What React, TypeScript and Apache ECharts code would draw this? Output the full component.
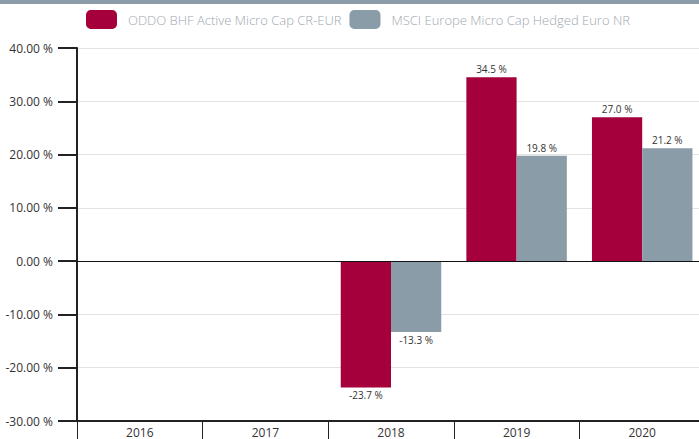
import React, { useEffect, useRef } from "react";
import * as echarts from "echarts";

const categories = ["2016", "2017", "2018", "2019", "2020"];
const seriesNames = ["ODDO BHF Active Micro Cap CR-EUR", "MSCI Europe Micro Cap Hedged Euro NR"];
const fundValues: (number | null)[] = [null, null, -23.7, 34.5, 27.0];
const indexValues: (number | null)[] = [null, null, -13.3, 19.8, 21.2];
const yTicks = { min: -30, max: 40, interval: 10 };

const RED = "#a6003c";
const GREY = "#8b9ca9";
const FONT = "'Open Sans', sans-serif";

function toData(vals: (number | null)[]) {
  return vals.map((v) =>
    v === null
      ? null
      : { value: v, label: { position: v < 0 ? "bottom" : "top" } }
  );
}

export default function App() {
  const ref = useRef<HTMLDivElement>(null);
  useEffect(() => {
    if (!ref.current) return;
    const chart = echarts.init(ref.current, null, { renderer: "svg" });
    const labelCfg = {
      show: true,
      fontFamily: FONT,
      fontSize: 10,
      color: "#333",
      distance: 3,
      formatter: (p: any) => p.value.toFixed(1) + " %",
    };
    chart.setOption({
      animation: false,
      textStyle: { fontFamily: FONT },
      graphic: [
        { type: "rect", left: 0, top: 0, shape: { width: 710, height: 4 }, style: { fill: "#8b9ba8" } },
      ],
      legend: {
        top: 10,
        left: 86,
        padding: 0,
        itemWidth: 31,
        itemHeight: 19,
        itemGap: 8,
        icon: "roundRect",
        textStyle: {
          fontFamily: FONT,
          fontSize: 13,
          color: "#a0a9b2",
          fontWeight: 300,
          padding: [0, 0, 0, 6],
        },
        data: seriesNames,
      },
      grid: { left: 77, right: -1, top: 48, bottom: 18 },
      xAxis: {
        type: "category",
        data: categories,
        axisLine: { onZero: false, lineStyle: { color: "#222", width: 2 } },
        axisTick: { show: true, length: 20, lineStyle: { color: "#222", width: 1 } },
        axisLabel: { fontFamily: FONT, fontSize: 12, color: "#333", margin: 5 },
      },
      yAxis: {
        type: "value",
        min: yTicks.min,
        max: yTicks.max,
        interval: yTicks.interval,
        axisLine: { show: true, lineStyle: { color: "#222", width: 2 } },
        axisTick: { show: true, length: 19, lineStyle: { color: "#222", width: 2 } },
        axisLabel: {
          fontFamily: FONT,
          fontSize: 12,
          color: "#333",
          margin: 24,
          formatter: (v: number) => v.toFixed(2) + " %",
        },
        splitLine: { show: true, lineStyle: { color: "#e3e3e3", width: 1 } },
      },
      series: [
        {
          name: seriesNames[0],
          type: "bar",
          data: toData(fundValues),
          itemStyle: { color: RED },
          barGap: "0%",
          barCategoryGap: "20%",
          label: labelCfg,
          markLine: {
            silent: true,
            symbol: "none",
            label: { show: false },
            lineStyle: { color: "#111", width: 1, type: "solid" },
            data: [{ yAxis: 0 }],
          },
        },
        {
          name: seriesNames[1],
          type: "bar",
          data: toData(indexValues),
          itemStyle: { color: GREY },
          barGap: "0%",
          barCategoryGap: "20%",
          label: labelCfg,
        },
      ],
    });
    return () => chart.dispose();
  }, []);
  return (
    <div
      ref={ref}
      style={{ position: "fixed", left: 0, top: 0, width: 705, height: 439, background: "#fff" }}
    />
  );
}
